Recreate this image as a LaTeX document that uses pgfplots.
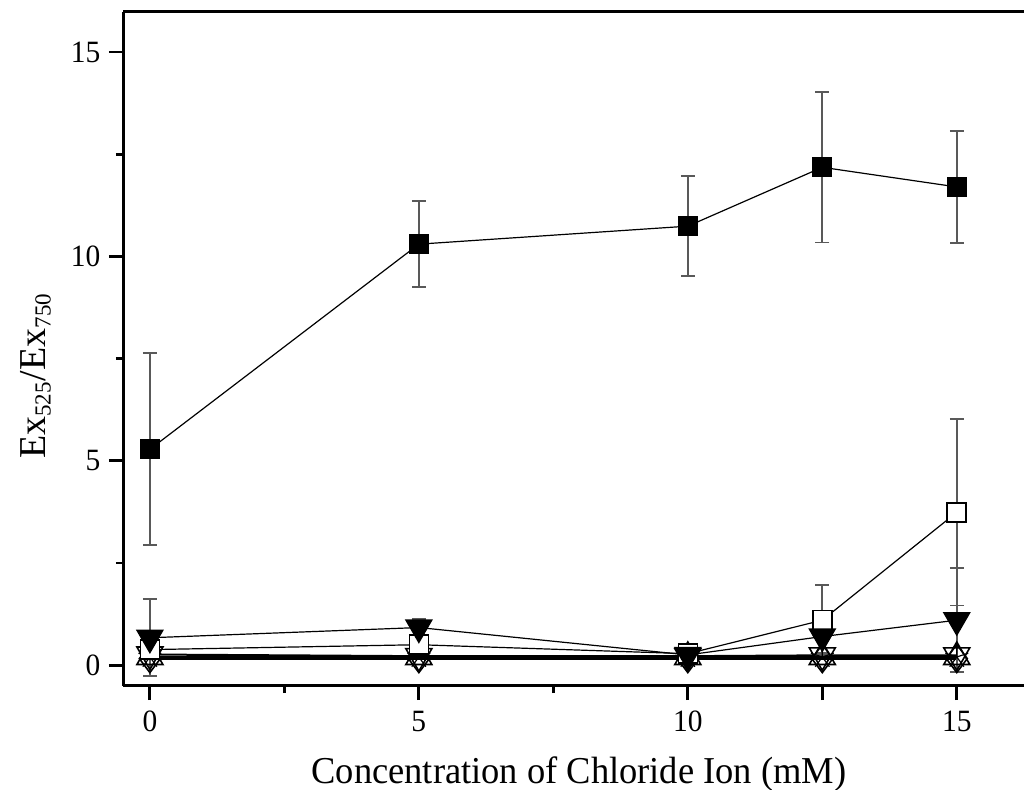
\documentclass[border=0pt]{standalone}
\usepackage{fontspec}
\setmainfont{Liberation Serif}
\usepackage{pgfplots}
\pgfplotsset{compat=1.18}

\definecolor{errgray}{gray}{0.35}

\begin{document}
\begin{tikzpicture}
\begin{axis}[
  name=ax,
  scale only axis,
  width=450.5pt, height=337pt,
  xmin=-0.5, xmax=16.25,
  ymin=-0.51, ymax=15.98,
  axis x line*=bottom,
  axis y line*=left,
  axis line style={line width=1.5pt, -},
  tick align=outside,
  tick style={line width=1.4pt, black},
  major tick length=7pt,
  minor tick length=3.5pt,
  xtick={0,5,10,12.5,15},
  xticklabels={0,5,10,,15},
  minor xtick={2.5,7.5},
  ytick={0,5,10,15},
  minor ytick={2.5,7.5,12.5},
  /pgf/number format/assume math mode=true,
  ticklabel style={font=\fontsize{15.5}{18}\selectfont, xscale=0.95},
  xticklabel style={yshift=-2pt},
  yticklabel style={xshift=-1pt},
  every axis x label/.style={at={(axis description cs:0.506,-0.144)}, anchor=base, xscale=0.96},
  every axis y label/.style={at={(axis description cs:-0.097,0.46)}, rotate=90, anchor=center},
  label style={font=\fontsize{19}{22}\selectfont},
  xlabel={Concentration of Chloride Ion (mM)},
  ylabel={Ex\textsubscript{\fontsize{11.5}{13}\selectfont 525}/Ex\textsubscript{\fontsize{11.5}{13}\selectfont 750}},
  clip=false,
  error bars/error bar style={solid, line width=0.9pt, errgray},
  error bars/error mark options={solid, rotate=90, mark size=3.5pt, line width=0.9pt, errgray},
  every axis plot/.append style={solid, line width=0.6pt, black},
]

% open diamonds
\addplot[black, line width=1pt, mark=diamond, mark size=7pt, mark options={solid, fill=white, line width=0.8pt}]
  coordinates {(0,0.16) (5,0.16) (10,0.16) (12.5,0.16) (15,0.16)};
% open downward triangles
\addplot[black, line width=1pt, mark=triangle, mark size=7.5pt, mark options={solid, rotate=180, line width=0.8pt}]
  coordinates {(0,0.26) (5,0.22) (10,0.22) (12.5,0.24) (15,0.24)};
% open upward triangles
\addplot[black, mark=triangle, mark size=7.5pt, mark options={solid, line width=0.8pt}]
  coordinates {(0,0.2) (5,0.2) (10,0.2) (12.5,0.2) (15,0.2)};
% open stars
\addplot[black, mark=star, mark size=6pt, mark options={solid, line width=0.6pt}]
  coordinates {(0,0.2) (5,0.2) (10,0.2) (12.5,0.2) (15,0.2)};

% open squares
\addplot[black, mark=square*, mark size=4.75pt, mark options={solid, fill=white, draw=black, line width=0.8pt},
  error bars/.cd, y dir=both, y explicit]
  coordinates {
    (0,0.38) +- (0,0.1)
    (5,0.50) +- (0,0.1)
    (10,0.28) +- (0,0.05)
    (12.5,1.10) +- (0,0.86)
    (15,3.74) +- (0,2.28)
  };

% filled downward triangles
\addplot[black, mark=triangle*, mark size=7.5pt, mark options={solid, rotate=180, fill=black},
  error bars/.cd, y dir=both, y explicit]
  coordinates {
    (0,0.67) +- (0,0.94)
    (5,0.92) +- (0,0.2)
    (10,0.25) +- (0,0.05)
    (12.5,0.70) +- (0,0.40)
    (15,1.10) +- (0,1.27)
  };

% filled squares
\addplot[black, mark=square*, mark size=4.75pt, mark options={solid, fill=black},
  error bars/.cd, y dir=both, y explicit]
  coordinates {
    (0,5.28) +- (0,2.35)
    (5,10.30) +- (0,1.05)
    (10,10.74) +- (0,1.22)
    (12.5,12.18) +- (0,1.84)
    (15,11.70) +- (0,1.37)
  };

% top frame line
\draw[line width=1.5pt] (rel axis cs:0,1) -- (rel axis cs:1,1);
\end{axis}
\pgfresetboundingbox
\path[use as bounding box] ([shift={(-61.5pt,-52pt)}]ax.south west) rectangle ([shift={(451.5pt,343pt)}]ax.south west);
\end{tikzpicture}
\end{document}
